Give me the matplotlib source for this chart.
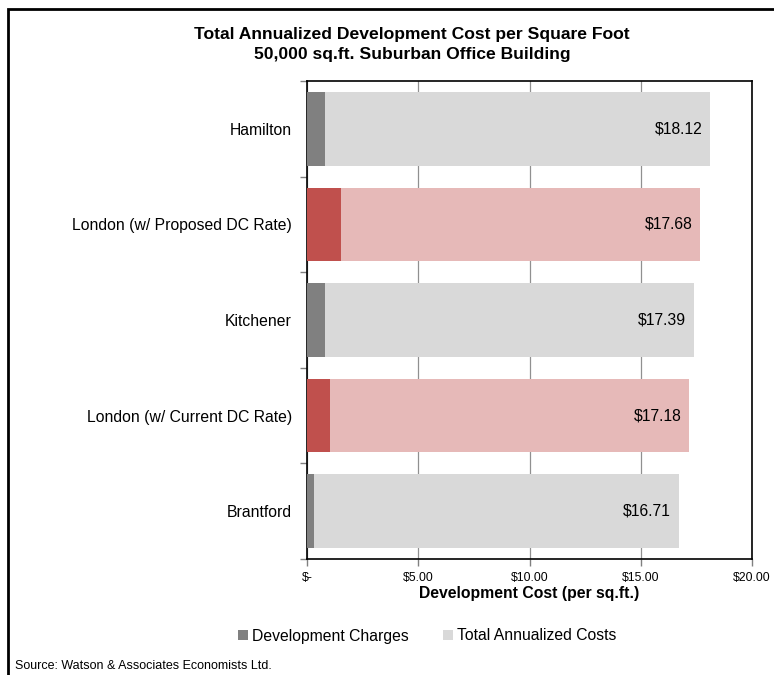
import matplotlib
matplotlib.use("Agg")
import matplotlib.pyplot as plt
from matplotlib.patches import Rectangle, Patch
import numpy as np

plt.rcParams['font.family'] = ['Liberation Sans', 'DejaVu Sans']

categories = ["Hamilton", "London (w/ Proposed DC Rate)", "Kitchener",
              "London (w/ Current DC Rate)", "Brantford"]
total_costs = [18.12, 17.68, 17.39, 17.18, 16.71]
dev_charges = [0.81, 1.52, 0.80, 1.02, 0.32]
is_london = [False, True, False, True, False]
xticks = [0, 5, 10, 15, 20]
xticklabels = ["$-", "$5.00", "$10.00", "$15.00", "$20.00"]

W, H = 774, 675
fig = plt.figure(figsize=(W / 100, H / 100), dpi=100)
ax = fig.add_axes([307 / W, 1 - 559 / H, (752 - 307) / W, (559 - 81) / H])

y = np.arange(len(categories))
light = ["#E6B9B8" if l else "#D9D9D9" for l in is_london]
dark = ["#C0504D" if l else "#808080" for l in is_london]
bh = 0.77
ax.barh(y, total_costs, height=bh, color=light, zorder=2)
ax.barh(y, dev_charges, height=bh, color=dark, zorder=3)

for yi, v in zip(y, total_costs):
    ax.text(v - 0.36, yi, f"${v:.2f}", ha="right", va="center", fontsize=11.3, zorder=4)

ax.set_xlim(0, 20)
ax.set_ylim(len(categories) - 0.5, -0.5)
ax.set_xticks(xticks)
ax.set_xticklabels(xticklabels, fontsize=8.8)
ax.set_yticks(y)
ax.set_yticklabels(categories, fontsize=11.3)
ax.tick_params(axis="y", which="major", length=0, pad=11)
ax.set_yticks(np.arange(-0.5, len(categories) + 0.5, 1), minor=True)
ax.tick_params(axis="y", which="minor", length=5, width=1, color="#808080")
ax.tick_params(axis="x", length=5, width=1, color="#808080", pad=4)
ax.xaxis.grid(True, color="#909090", linewidth=0.9, zorder=0)
ax.set_axisbelow(True)
for s in ax.spines.values():
    s.set_linewidth(1.2)
    s.set_color("black")
ax.set_xlabel("Development Cost (per sq.ft.)", fontsize=11.3, fontweight="bold", labelpad=2)

fig.text(412 / W, 1 - 34 / H, "Total Annualized Development Cost per Square Foot",
         ha="center", va="center", fontsize=12.6, fontweight="bold")
fig.text(412 / W, 1 - 55 / H, "50,000 sq.ft. Suburban Office Building",
         ha="center", va="center", fontsize=12.6, fontweight="bold")

handles = [Patch(facecolor="#808080", label="Development Charges"),
           Patch(facecolor="#D9D9D9", label="Total Annualized Costs")]
fig.legend(handles=handles, loc="center", bbox_to_anchor=(427 / W, 1 - 636 / H),
           ncol=2, frameon=False, fontsize=11.3, handlelength=0.65, handleheight=0.65,
           handletextpad=0.25, columnspacing=2.2)

fig.text(15 / W, 1 - 666 / H, "Source: Watson & Associates Economists Ltd.",
         ha="left", va="center", fontsize=9)

fig.patches.append(Rectangle((8 / W, -0.1), 1.2, 1 - 9 / H + 0.1, transform=fig.transFigure,
                             fill=False, edgecolor="black", linewidth=2))

fig.savefig("out.png", dpi=100)
